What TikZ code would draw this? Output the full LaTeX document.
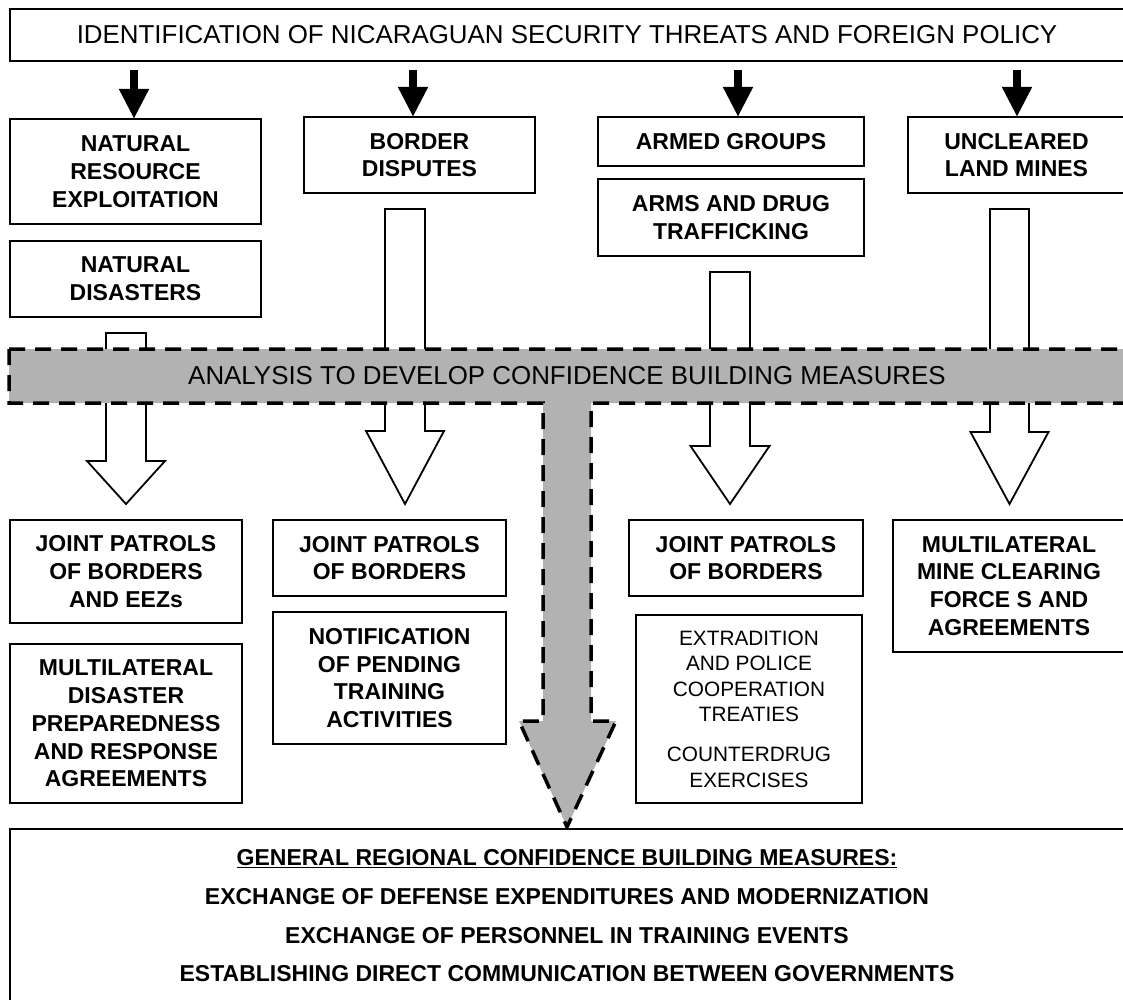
\documentclass[tikz,border=0pt]{standalone}
\usepackage{fontspec}
\setmainfont{Liberation Sans}
\usetikzlibrary{arrows.meta}
\definecolor{bandgray}{RGB}{178,178,178}
\newcommand\holarrow[6]{%
  \path[hol] (#1-#5,#2) -- (#1+#5,#2) -- (#1+#5,#3) -- (#1+#6,#3) -- (#1,#4) -- (#1-#6,#3) -- (#1-#5,#3) -- cycle;}
\begin{document}
\begin{tikzpicture}[x=1pt,y=-1pt,
  bx/.style={draw, line width=2, fill=white, align=center, inner sep=0pt, outer sep=0pt,
    anchor=north west, font=\bfseries\fontsize{23}{27.8}\selectfont},
  rg/.style={font=\fontsize{20.8}{25.5}\selectfont},
  big/.style={font=\fontsize{25.9}{30}\selectfont},
  blk/.style={line width=8, -{Triangle[length=30pt,width=28pt]}},
  hol/.style={draw, line width=1.8, fill=white, line join=miter},
  band/.style={fill=bandgray, draw=black, line width=3.5, dash pattern=on 16pt off 10pt},
]
\useasboundingbox (0,0) rectangle (1123,1000);
\clip (0,0) rectangle (1123,1000);

% top title
\node[bx, big, minimum width=1114, minimum height=52] (title) at (10,9) {IDENTIFICATION OF NICARAGUAN SECURITY THREATS AND FOREIGN POLICY};

% threat boxes
\node[bx, minimum width=251, minimum height=105] (nre) at (10,119) {NATURAL\\RESOURCE\\EXPLOITATION};
\node[bx, minimum width=251, minimum height=76] (nd) at (10,241) {NATURAL\\DISASTERS};
\node[bx, minimum width=231, minimum height=76] (border) at (304,117) {BORDER\\DISPUTES};
\node[bx, minimum width=266, minimum height=49] (armed) at (598,117) {ARMED GROUPS};
\node[bx, minimum width=266, minimum height=77] (arms) at (598,179) {ARMS AND DRUG\\TRAFFICKING};
\node[bx, minimum width=217, minimum height=76] (mines) at (908,117) {UNCLEARED\\LAND MINES};

% black arrows
\coordinate (a1) at (134,70);
\coordinate (a2) at (413,70);
\coordinate (a3) at (738,70);
\coordinate (a4) at (1017,70);
\draw[blk] (a1) -- (a1 |- nre.north);
\draw[blk] (a2) -- (a2 |- border.north);
\draw[blk] (a3) -- (a3 |- armed.north);
\draw[blk] (a4) -- (a4 |- mines.north);

% hollow arrows
\holarrow{126}{333}{461}{504}{20}{39}
\holarrow{405}{209}{431}{504}{20}{39}
\holarrow{730}{272}{446}{504}{20}{39.5}
\holarrow{1009.5}{209}{432}{504}{19.5}{39}

% band with big gray arrow
\path[band] (9,349) -- (1140,349) -- (1140,403) -- (591,403) -- (591,721) -- (616,721)
  -- (567,827) -- (519,721) -- (543,721) -- (543,403) -- (9,403) -- cycle;
\node[big] (analysis) at (567,376) {ANALYSIS TO DEVELOP CONFIDENCE BUILDING MEASURES};

% measure boxes
\node[bx, minimum width=232, minimum height=103] (jp1) at (10,520) {JOINT PATROLS\\OF BORDERS\\AND EEZs};
\node[bx, minimum width=232, minimum height=159] (mdpra) at (10,644) {MULTILATERAL\\DISASTER\\PREPAREDNESS\\AND RESPONSE\\AGREEMENTS};
\node[bx, minimum width=233, minimum height=76] (jp2) at (273,520) {JOINT PATROLS\\OF BORDERS};
\node[bx, minimum width=233, minimum height=132] (notif) at (273,612) {NOTIFICATION\\OF PENDING\\TRAINING\\ACTIVITIES};
\node[bx, minimum width=234, minimum height=76] (jp3) at (629,520) {JOINT PATROLS\\OF BORDERS};
\node[bx, rg, minimum width=226, minimum height=188] (extr) at (636,615) {EXTRADITION\\AND POLICE\\COOPERATION\\TREATIES\\[14.5pt]COUNTERDRUG\\EXERCISES};
\node[bx, minimum width=232, minimum height=132] (mmcf) at (893,520) {MULTILATERAL\\MINE CLEARING\\FORCE S AND\\AGREEMENTS};

% bottom box
\node[bx, minimum width=1114, minimum height=200] (bottom) at (10,829) {};
\node[align=center, inner sep=0pt, font=\bfseries\fontsize{23}{38.7}\selectfont] (gcbm) at (567,916)
  {\underline{GENERAL REGIONAL CONFIDENCE BUILDING MEASURES:}\\
   EXCHANGE OF DEFENSE EXPENDITURES AND MODERNIZATION\\
   EXCHANGE OF PERSONNEL IN TRAINING EVENTS\\
   ESTABLISHING DIRECT COMMUNICATION BETWEEN GOVERNMENTS};
\end{tikzpicture}
\end{document}
